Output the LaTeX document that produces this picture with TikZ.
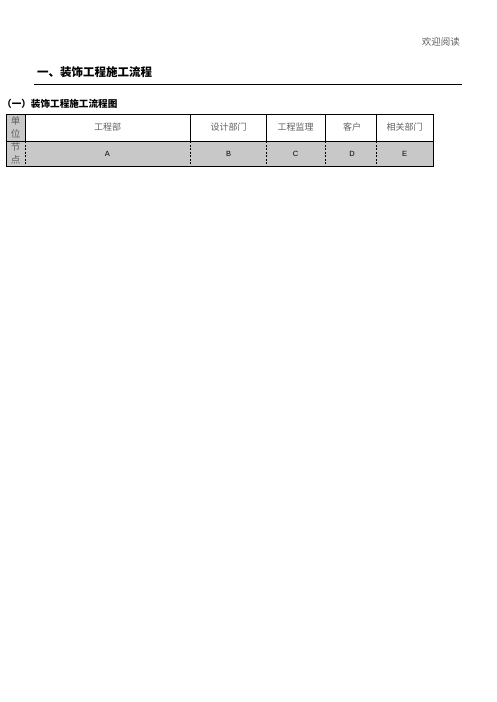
\documentclass[tikz,border=0pt]{standalone}
\usepackage{fontspec}
\setmainfont{Liberation Sans}
\newfontfamily\cjk{Noto Sans CJK SC}
\usepackage{tikz}
\usetikzlibrary{positioning}
\definecolor{cellgray}{RGB}{200,200,200}
\definecolor{textgray}{RGB}{95,95,95}

\begin{document}
\begin{tikzpicture}[%
x=1pt,y=-1pt,%
headtext/.style={inner sep=0,font=\cjk\fontsize{9}{10}\selectfont,text=textgray},%
sidetext/.style={inner sep=0,align=center,font=\cjk\fontsize{9.5}{13.5}\selectfont,text=textgray},%
lettertext/.style={inner sep=0,font=\fontsize{7.5}{8}\selectfont},%
solidline/.style={line width=0.8pt},%
dashline/.style={line width=0.7pt,dash pattern=on 2pt off 1.5pt},%
  ]
    \useasboundingbox (0,0) rectangle (496,702);

    % top of page
    \node[inner sep=0,anchor=east,font=\cjk\fontsize{9.5}{10}\selectfont,text=textgray] (welcome) at (460,42) {欢迎阅读};
    \node[inner sep=0,anchor=west,font=\cjk\fontsize{11.5}{12}\selectfont\bfseries] (title) at (37,72) {一、装饰工程施工流程};
    \coordinate (ruleL) at (34,84);
    \coordinate (ruleR) at (462,84);
    \draw[line width=0.9pt] (ruleL) -- (ruleR);
    \node[inner sep=0,anchor=west,font=\cjk\fontsize{9.6}{10}\selectfont\bfseries] (subtitle) at (2,104) {（一）装饰工程施工流程图};

    % table
    \fill[cellgray] (6,141) rectangle (433,166);
    \fill[cellgray] (6,114) rectangle (25,141);
    \draw[solidline] (6,114) rectangle (433,166);
    \draw[solidline] (6,141) -- (433,141);
    \foreach \xc in {25,190,266,325,376}{
      \draw[solidline] (\xc,114) -- (\xc,141);
      \draw[dashline] (\xc,141) -- (\xc,166);
    }

    \node[sidetext] (unit) at (15.5,127.5) {单\\位};
    \node[sidetext] (point) at (15.5,153.5) {节\\点};

    \foreach \xc/\h/\l in {107.5/工程部/A, 228.5/设计部门/B, 295.5/工程监理/C, 352/客户/D, 404.5/相关部门/E}{
      \node[headtext] (head\l) at (\xc,127.5) {\h};
      \node[lettertext] (node\l) at (\xc,153.5) {\l};
    }
  \end{tikzpicture}
\end{document}
